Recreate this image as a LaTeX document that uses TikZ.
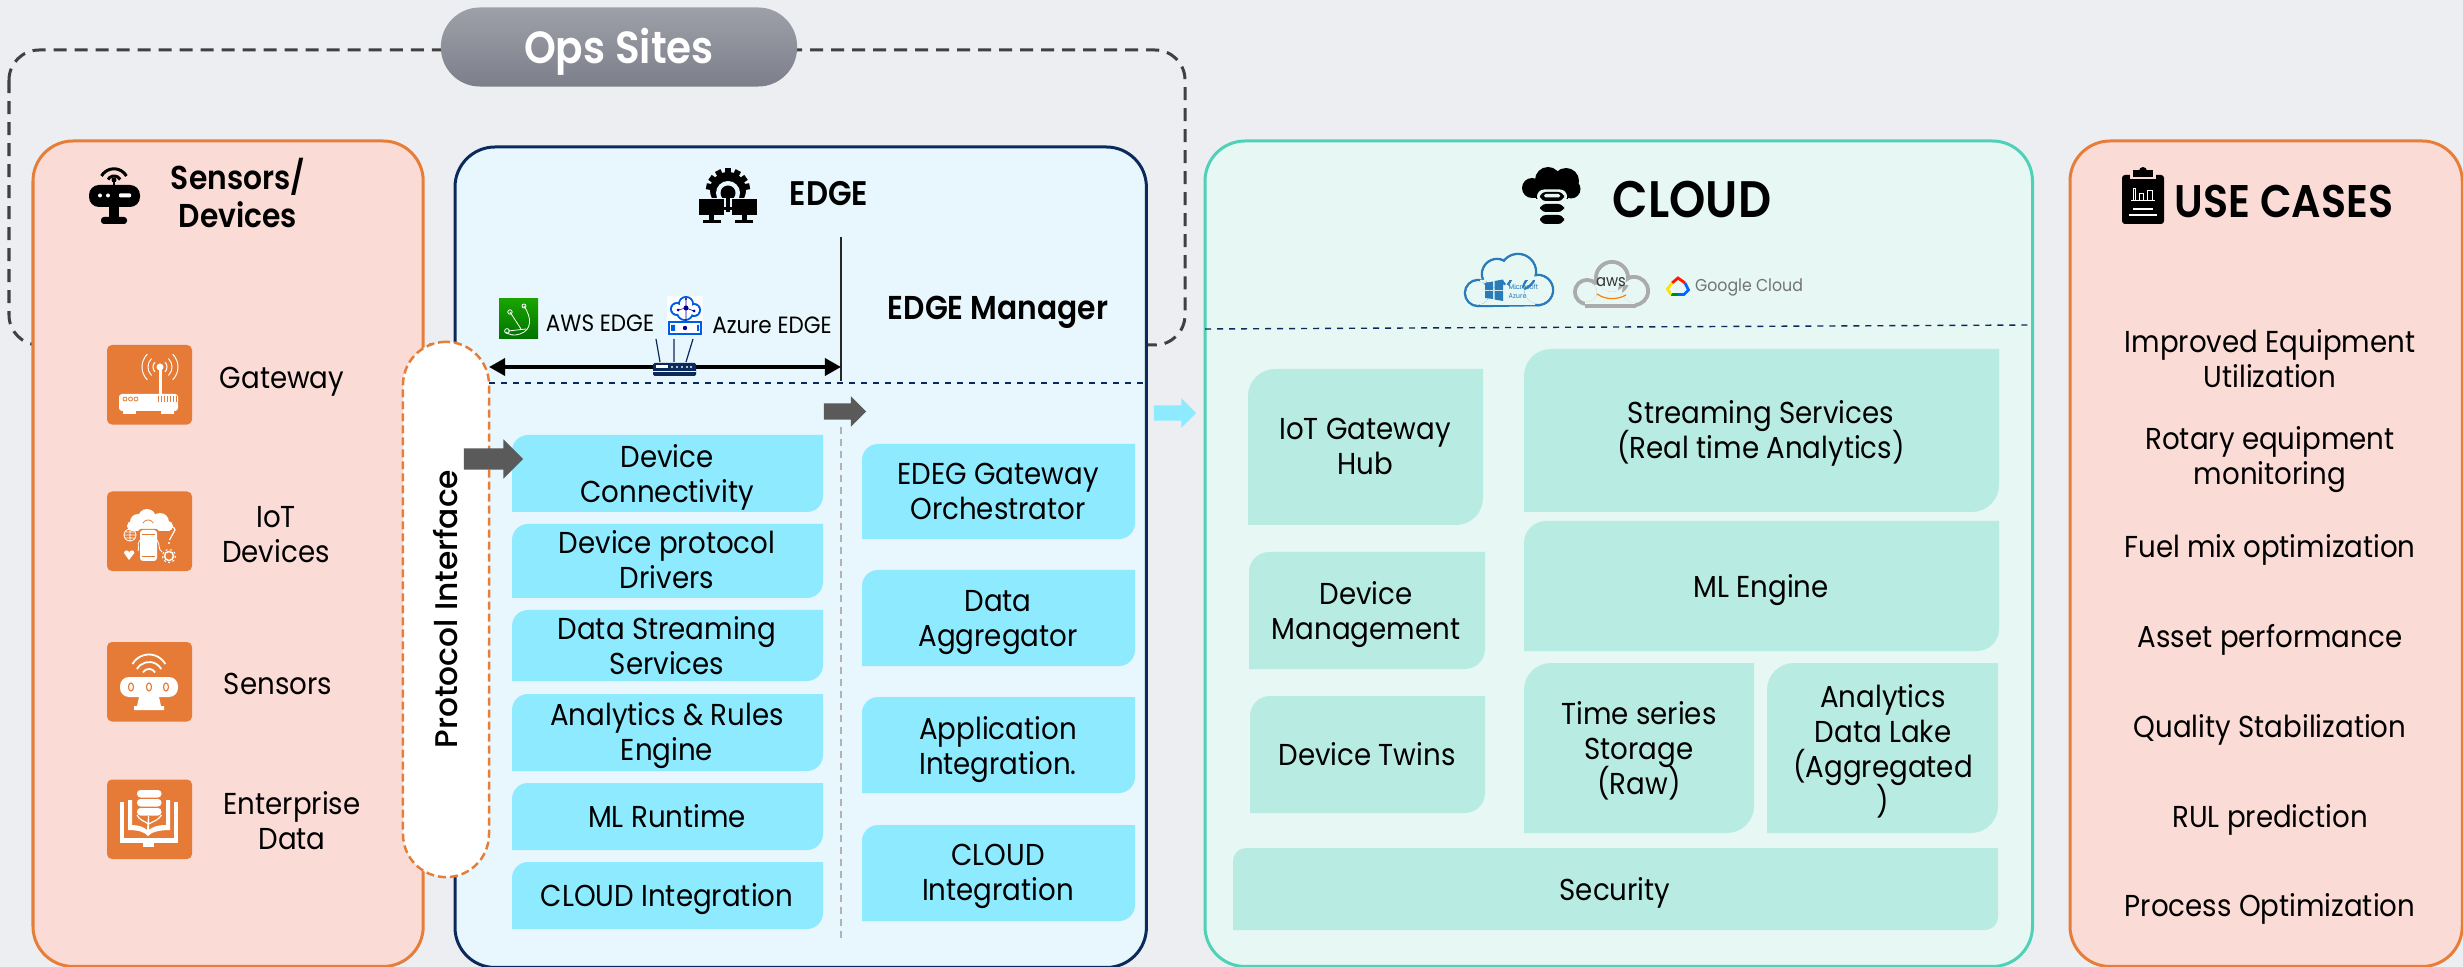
\documentclass[tikz,border=0pt]{standalone}
\usepackage{fontspec}
\setmainfont{Poppins}[FakeStretch=0.915]
\newfontfamily\medfont{Poppins SemiBold}[FakeStretch=0.9]
\newfontfamily\protofont{Poppins Medium}
\usetikzlibrary{shapes.arrows,arrows.meta}
\definecolor{bgc}{HTML}{ECEEF2}
\definecolor{oranged}{HTML}{E67E3A}
\definecolor{pinkf}{HTML}{FADBD6}
\definecolor{navy}{HTML}{0B2A5C}
\definecolor{edgef}{HTML}{E8F7FD}
\definecolor{cloudf}{HTML}{E7F7F3}
\definecolor{cloudl}{HTML}{4FD1B8}
\definecolor{bluebox}{HTML}{8EEBFF}
\definecolor{tealbox}{HTML}{B8EBE2}
\definecolor{grayarr}{HTML}{5A5A5A}
\definecolor{iconorange}{HTML}{E57B37}
\definecolor{pilltop}{HTML}{9EA0A9}
\definecolor{pillbot}{HTML}{7C7E8A}
\newcommand{\vstrut}{\rule[-4pt]{0pt}{14pt}}
\newcommand{\opsstrut}{\rule[-5pt]{0pt}{18.8pt}}
\newcommand{\cloudstrut}{\rule[-6pt]{0pt}{22.2pt}}
\tikzset{
  centred/.style={execute at begin node={\lineskiplimit=-20pt\vstrut},execute at end node={\vstrut}},
  lbl/.style={font=\fontsize{8.6}{9.96}\selectfont,align=center,inner sep=0pt,text=black,centred,yshift=-0.012cm},
  ttl/.style={font=\medfont\fontsize{9.4}{10.8}\selectfont,align=center,inner sep=0pt,text=black,centred},
  panel/.style={draw,line width=0.03cm,rounded corners=0.4cm,anchor=north west,inner sep=0pt,outer sep=0pt},
  blockarrow/.style={single arrow,single arrow tip angle=90,inner sep=0pt,outer sep=0pt,anchor=tip,draw=none,minimum width=0pt,text depth=0pt},
}
\newcommand{\petal}[9]{%
  \fill[#2] (#3,#6) [rounded corners=#7] -- (#3,#4) [sharp corners] -- (#5,#4) [rounded corners=#7] -- (#5,#6) [sharp corners] -- cycle;
  \node[lbl] (#1) at #8 {#9};}
\newcommand{\iconsq}[3]{%
  \node[fill=iconorange,rounded corners=0.05cm,inner sep=0pt,outer sep=0pt,minimum width=0.85cm,minimum height=0.795cm,anchor=north west] (#1) at (#2,#3) {};}
\begin{document}
\begin{tikzpicture}[x=0.01cm,y=-0.01cm]
\useasboundingbox (0,0) rectangle (2463,967);
\fill[bgc] (0,0) rectangle (2463,967);

% Ops site frame
\draw[draw=black!75,line width=0.03cm,dash pattern=on 0.13cm off 0.08cm,rounded corners=0.3cm] (9,50) rectangle (1185,345);

% Panels
\node[panel,draw=oranged,fill=pinkf,minimum width=3.9cm,minimum height=8.25cm] (sensors) at (33,141) {};
\node[panel,draw=navy,fill=edgef,minimum width=6.91cm,minimum height=8.2cm] (edge) at (455,147) {};
\node[panel,draw=cloudl,fill=cloudf,minimum width=8.27cm,minimum height=8.25cm] (cloud) at (1205,141) {};
\node[panel,draw=oranged,fill=pinkf,minimum width=3.92cm,minimum height=8.25cm] (uses) at (2070,141) {};

% Ops pill
\node[rounded corners=0.39cm,top color=pilltop,bottom color=pillbot,minimum width=3.56cm,minimum height=0.79cm,inner sep=0pt,outer sep=0pt,text=white,font=\medfont\fontsize{12.8}{14}\selectfont,execute at begin node={\opsstrut}] (ops) at (619,47) {\raisebox{-0.4pt}{Ops Sites}};

% Edge dividers
\coordinate (vtop) at (841,237); \coordinate (vbot) at (841,381);
\draw[black!85,line width=0.012cm] (vtop) -- (vbot);
\coordinate (v2top) at (841,427); \coordinate (v2bot) at (841,943);
\draw[black!30,line width=0.012cm,dash pattern=on 0.07cm off 0.05cm] (v2top) -- (v2bot);
\coordinate (dl) at (489,383); \coordinate (dr) at (1146,383);
\draw[navy,line width=0.014cm,dash pattern=on 0.06cm off 0.06cm] (dl) -- (dr);
\coordinate (cl) at (1205,329); \coordinate (cr) at (2032,325);
\draw[navy,line width=0.014cm,dash pattern=on 0.06cm off 0.06cm] (cl) -- (cr);

% Protocol pill
\node[draw=oranged,fill=white,line width=0.025cm,dash pattern=on 0.08cm off 0.04cm,rounded corners=0.43cm,minimum width=0.86cm,minimum height=5.35cm,inner sep=0pt,outer sep=0pt] (proto) at (446,609.5) {};
\node[rotate=90,inner sep=0pt,font=\protofont\fontsize{8.9}{11}\selectfont,execute at begin node={\vstrut}] (prototxt) at (447,609) {Protocol Interface};

% Double arrow
\coordinate (al) at (489,367); \coordinate (ar) at (841,367);
\draw[black,line width=0.035cm,{Triangle[length=0.16cm,width=0.17cm]}-{Triangle[length=0.16cm,width=0.17cm]}] (al) -- (ar);

% Section headings
\node[ttl] (sdh) at (238,200) {Sensors/\\Devices};
\node[ttl,font=\medfont\fontsize{9.7}{11}\selectfont] (edgeh) at (829,195) {EDGE};
\node[ttl,font=\medfont\fontsize{9.4}{11}\selectfont] (emh) at (998,309) {EDGE Manager};
\node[ttl,font=\medfont\fontsize{14.6}{16}\selectfont,execute at begin node={\cloudstrut}] (cloudh) at (1692,200) {CLOUD};
\node[ttl,font=\medfont\fontsize{13}{14}\selectfont,execute at begin node={\opsstrut}] (useh) at (2284,202) {USE CASES};

% Device items
\iconsq{i1}{107}{345}
\iconsq{i2}{107}{491.5}
\iconsq{i3}{107}{642}
\iconsq{i4}{107}{779.5}
\node[lbl] (t1) at (282,377) {Gateway};
\node[lbl] (t2) at (276,540) {IoT\\Devices};
\node[lbl] (t3) at (278,683) {Sensors};
\node[lbl] (t4) at (292,826) {Enterprise\\Data};

% Edge left stack
\petal{e1}{bluebox}{512}{435}{823}{512}{0.16cm}{(667,479)}{Device\\Connectivity}
\petal{e2}{bluebox}{512}{524}{823}{598}{0.16cm}{(667,565)}{Device protocol\\Drivers}
\petal{e3}{bluebox}{512}{610}{823}{681}{0.16cm}{(667,651)}{Data Streaming\\Services}
\petal{e4}{bluebox}{512}{694}{823}{771}{0.16cm}{(667,737)}{Analytics \& Rules\\Engine}
\petal{e5}{bluebox}{512}{783}{823}{850}{0.16cm}{(667,816)}{ML Runtime}
\petal{e6}{bluebox}{512}{862}{823}{929}{0.16cm}{(667,895)}{CLOUD Integration}
% Edge right stack
\petal{m1}{bluebox}{862}{444}{1135}{539}{0.16cm}{(998,497)}{EDEG Gateway\\Orchestrator}
\petal{m2}{bluebox}{862}{570}{1135}{666}{0.16cm}{(998,624)}{Data\\Aggregator}
\petal{m3}{bluebox}{862}{697}{1135}{793}{0.16cm}{(998,751)}{Application\\Integration.}
\petal{m4}{bluebox}{862}{825}{1135}{921}{0.16cm}{(998,878)}{CLOUD\\Integration}
% Cloud
\petal{c1}{tealbox}{1248}{369}{1483}{525}{0.27cm}{(1365,452)}{IoT Gateway\\Hub}
\petal{c2}{tealbox}{1524}{349}{1999}{512}{0.27cm}{(1761,435)}{Streaming Services\\(Real time Analytics)}
\petal{c3}{tealbox}{1524}{521}{1999}{651}{0.22cm}{(1761,586)}{ML Engine}
\petal{c4}{tealbox}{1249}{552}{1485}{669}{0.2cm}{(1366,616)}{Device\\Management}
\petal{c5}{tealbox}{1250}{696}{1485}{813}{0.2cm}{(1367,754)}{Device Twins}
\petal{c6}{tealbox}{1524}{663}{1754}{833}{0.27cm}{(1639,754)}{Time series\\Storage\\(Raw)}
\petal{c7}{tealbox}{1767}{663}{1998}{833}{0.27cm}{(1883,754)}{Analytics\\Data Lake\\(Aggregated\\)}
\petal{c8}{tealbox}{1233}{848}{1998}{930}{0.13cm}{(1615,889)}{Security}

% Block arrows
\node[blockarrow,fill=grayarr,minimum height=0.59cm,text height=0.2cm,single arrow head extend=0.09cm] (ga) at (523,459) {};
\node[blockarrow,fill=grayarr,minimum height=0.42cm,text height=0.15cm,single arrow head extend=0.07cm] (gb) at (866,411.5) {};
\node[blockarrow,fill=bluebox,minimum height=0.42cm,text height=0.14cm,single arrow head extend=0.07cm] (lb) at (1196,413) {};

% Use cases
\node[lbl] (u1) at (2270,364) {Improved Equipment\\Utilization};
\node[lbl] (u2) at (2270,461) {Rotary equipment\\monitoring};
\node[lbl] (u3) at (2270,546) {Fuel mix optimization};
\node[lbl] (u4) at (2270,636) {Asset performance};
\node[lbl] (u5) at (2270,726) {Quality Stabilization};
\node[lbl] (u6) at (2270,816) {RUL prediction};
\node[lbl] (u7) at (2270,905) {Process Optimization};

% AWS / Azure edge labels
\node[lbl,font=\fontsize{6.7}{8}\selectfont] (awse) at (600,320) {AWS EDGE};
\node[lbl,font=\fontsize{6.7}{8}\selectfont] (azue) at (772,322) {Azure EDGE};

% ---- ICONS ----
% robot heading icon
\begin{scope}
\draw[black,line width=0.03cm] (101.5,176) arc[start angle=-150,end angle=-30,radius=14.4];
\draw[black,line width=0.03cm] (108,179.5) arc[start angle=-150,end angle=-30,radius=7];
\fill[black] (114,180) circle (2.5);
\draw[black,line width=0.025cm] (114,180) -- (114,186);
\fill[black,rounded corners=0.1cm] (89,185) rectangle (140,207);
\fill[black] (109,207) rectangle (119,218);
\fill[black,rounded corners=0.03cm] (101,217) rectangle (127,224);
\fill[white] (100,195.5) circle (2); \fill[white] (108,195.5) circle (2);
\fill[white,rounded corners=0.01cm] (119,193.5) rectangle (131,197.5);
\end{scope}
% gear+monitors heading icon
\begin{scope}
\clip (690,160) rectangle (770,230);
\begin{scope}
\clip (690,160) rectangle (770,198);
\fill[black] (728,190) circle (18);
\foreach \a in {-170,-145,-118,-90,-62,-35,-10}
  \draw[black,line width=0.06cm] (728,190) -- ++(\a:22);
\fill[edgef] (728,193) circle (12);
\fill[black] (728,193) circle (7.5);
\fill[edgef] (726,193) rectangle (730,199);
\end{scope}
\fill[black] (726,190) rectangle (730,212);
\fill[black] (699,199) rectangle (724,215);
\fill[black] (732,199) rectangle (757,215);
\fill[black] (709,215) rectangle (714,220); \fill[black] (742,215) rectangle (747,220);
\fill[black] (703,220) rectangle (721,223); \fill[black] (735,220) rectangle (753,223);
\fill[black] (724,207) rectangle (732,210);
\end{scope}
% cloud db heading icon
\begin{scope}
\fill[black] (1532,188) circle (10);
\fill[black] (1548,180) circle (13);
\fill[black] (1566,181) circle (13);
\fill[black] (1571,189) circle (9.5);
\fill[black] (1532,180) rectangle (1570,198);
\fill[black] (1536,198) rectangle (1568,199);
\foreach \yy/\hh in {192/9,204/8,215/9}{
  \fill[cloudf,rounded corners=0.07cm] (1537,\yy-2.5) rectangle (1567,\yy+\hh+2.5);
  \fill[black,rounded corners=0.06cm] (1540,\yy) rectangle (1564,\yy+\hh);}
\fill[cloudf,rounded corners=0.015cm] (1544,194) rectangle (1560,197.5);
\end{scope}
% clipboard heading icon
\begin{scope}
\fill[black,rounded corners=0.03cm] (2122,175) rectangle (2164,224);
\fill[pinkf] (2130,172) rectangle (2156,179);
\fill[black] (2133,170) rectangle (2153,177);
\fill[black] (2143,171) circle (4);
\draw[white,line width=0.008cm] (2131,200) -- (2155,200);
\draw[white,line width=0.008cm] (2133,200) -- (2133,188) -- (2135,188) -- (2135,200) (2139,200) -- (2139,193) -- (2143,193) -- (2143,200) (2147,200) -- (2147,190) -- (2152,190) -- (2152,200);
\draw[white,line width=0.012cm] (2133,209) -- (2153,209) (2129,215) -- (2157,215);
\end{scope}
% orange icon 1 router
\begin{scope}
\fill[white,rounded corners=0.03cm] (119,394) rectangle (178,411);
\fill[white] (123,411) rectangle (136,414); \fill[white] (161,411) rectangle (174,414);
\fill[white] (159,368) rectangle (161.5,394);
\fill[white] (160,367) circle (3.5);
\foreach \r in {7,12,18}{
 \draw[white,line width=0.01cm] (160,367) ++(-45:\r) arc[start angle=-45,end angle=45,radius=\r];
 \draw[white,line width=0.01cm] (160,367) ++(-135:\r) arc[start angle=-135,end angle=-225,radius=\r];}
\foreach \xx in {125,130.5,136}{\draw[iconorange,line width=0.008cm] (\xx,399) circle (2);}
\foreach \xx in {158,161,164,167,170,173,176}{\draw[iconorange,line width=0.008cm] (\xx,396) -- (\xx,402);}
\end{scope}
% orange icon 2 cloud phone
\begin{scope}
\fill[white] (138,522) circle (8); \fill[white] (147,518) circle (9); \fill[white] (160,522) circle (9); \fill[white] (132,526) circle (5); \fill[white] (168,526) circle (5);
\fill[white] (132,524) rectangle (170,531);
\fill[iconorange,rounded corners=0.03cm] (138,529) rectangle (159,563);
\fill[white,rounded corners=0.03cm] (140,530) rectangle (157,561);
\draw[iconorange,line width=0.008cm] (142,534) -- (155,534) (142,556) -- (155,556);
\draw[iconorange,line width=0.008cm] (143,523) arc[start angle=-150,end angle=-30,radius=6];
\draw[white,line width=0.008cm] (130,535) circle (6) (124,535) -- (136,535) (130,529) -- (130,541) (125,532) -- (135,532) (125,538) -- (135,538);
\fill[white] (129,560) -- (124,553) arc[start angle=-180,end angle=0,radius=2.6] arc[start angle=-180,end angle=0,radius=2.6] -- cycle;
\draw[white,line width=0.015cm] (169,556) circle (4.5);
\draw[white,line width=0.01cm,dash pattern=on 0.02cm off 0.025cm] (169,556) circle (6.5);
\draw[white,line width=0.012cm] (169,530) arc[start angle=-180,end angle=0,radius=3] -- (169.5,540);
\fill[white] (169,543) circle (1.2);
\draw[white,line width=0.008cm] (140,540) .. controls (136,545) and (140,548) .. (138,551);
\draw[white,line width=0.008cm] (157,540) .. controls (161,545) and (157,548) .. (162,552);
\end{scope}
% orange icon 3 sensor
\begin{scope}
\draw[white,line width=0.018cm] (132.5,664) arc[start angle=-150,end angle=-30,radius=19];
\draw[white,line width=0.018cm] (137,669) arc[start angle=-150,end angle=-30,radius=14];
\draw[white,line width=0.018cm] (143,672.5) arc[start angle=-150,end angle=-30,radius=7];
\fill[white,rounded corners=0.09cm] (120,677) rectangle (178,697);
\foreach \xx in {131,149,166}{\draw[iconorange,line width=0.012cm] (\xx,687) ellipse (2.5 and 4);}
\fill[white] (139,697) -- (159,697) -- (161,706) -- (164,706) -- (164,710) -- (134,710) -- (134,706) -- (137,706) -- cycle;
\end{scope}
% orange icon 4 book db
\begin{scope}
\fill[white] (120,802) rectangle (124,838);
\fill[white] (174,802) rectangle (178,838);
\fill[white] (120,838) rectangle (178,843);
\fill[white] (128,800) -- (128,830) .. controls (138,830) and (145,832) .. (148,836) .. controls (151,832) and (160,830) .. (170,830) -- (170,800) -- (166,800) -- (166,825) .. controls (158,825) and (152,827) .. (149,830) -- (149,816) -- (148,816) -- (147,830) .. controls (144,827) and (138,825) .. (132,825) -- (132,800) -- cycle;
\fill[white] (143,843) rectangle (154,847);
\foreach \yy in {790,799,808}{\fill[white,rounded corners=0.035cm] (137,\yy) rectangle (161.5,\yy+7.5);}
\draw[white,line width=0.012cm] (137,815) .. controls (139,820) and (146,822) .. (148.5,824);
\draw[white,line width=0.012cm] (161.5,815) .. controls (159,820) and (152,822) .. (148.5,824);
\end{scope}
% AWS green square
\begin{scope}
\shade[bottom color=green!45!black,top color=green!60!black!90!yellow] (499,299) rectangle (538,339);
\draw[white,line width=0.008cm] (510,312) -- (521,329) (508,331) -- (526,329) (524,306) .. controls (532,318) and (532,330) .. (520,334) .. controls (514,336) and (509,335) .. (506,332);
\draw[white,line width=0.008cm] (510,312) circle (2.2) (524,306) circle (2) (507,331) circle (2.4);
\end{scope}
% Azure edge icon
\begin{scope}
\fill[white,opacity=.8] (667,296) rectangle (703,335);
\draw[blue!60!cyan!90!black,line width=0.02cm] (677,309) circle (6) (686,304) circle (7) (694,310) circle (6) (685,312) circle (8);
\fill[white] (677,309) circle (5) (686,304) circle (6) (694,310) circle (5) (685,312) circle (7);
\fill[blue!60!black] (686,308) circle (2.5) (678,310) circle (1.5) (694,311) circle (1.5) (686,299) circle (1.2);
\draw[blue!60!black,line width=0.006cm] (678,310) -- (686,308) -- (694,311) (686,299) -- (686,322);
\draw[blue!60!cyan!90!black,line width=0.02cm,fill=white] (669,322) rectangle (701,334);
\fill[blue!60!black] (685,328) circle (2.2);
\fill[blue!60!cyan!90!black] (671,325) rectangle (675,331) (697,325) rectangle (699,331);
\end{scope}
% Router on arrow
\begin{scope}
\draw[navy,line width=0.012cm] (660,362) -- (656,339) (674,362) -- (674,339) (686,362) -- (693,339);
\fill[navy,rounded corners=0.015cm] (653,363) rectangle (696,376);
\fill[edgef] (653,371) rectangle (696,372);
\fill[white] (656,365.5) rectangle (668,368.5);
\foreach \xx in {672,677,682,687,691}{\fill[edgef] (\xx,367) circle (1.1);}
\end{scope}
% Azure logo
\begin{scope}
\draw[cyan!65!blue!85!black,line width=0.025cm] (1478,293) circle (13) (1497,274) circle (15) (1518,272) circle (18) (1538,290) circle (15);
\draw[cyan!65!blue!85!black,line width=0.025cm] (1478,306) -- (1540,305);
\fill[cloudf] (1478,293) circle (11.8) (1497,274) circle (13.8) (1518,272) circle (16.8) (1538,290) circle (13.8) (1480,280) rectangle (1535,304.8);
\fill[cyan!65!blue!85!black] (1485,283) -- (1493,281.5) -- (1493,290) -- (1485,290) -- cycle (1494.5,281) -- (1503,279.5) -- (1503,290) -- (1494.5,290) -- cycle (1485,291) -- (1493,291) -- (1493,299) -- (1485,298) -- cycle (1494.5,291) -- (1503,291) -- (1503,301) -- (1494.5,299.5) -- cycle;
\node[inner sep=0pt,text=cyan!65!blue!85!black,align=left,anchor=west,font=\fontsize{2}{2.6}\selectfont] (azlogo) at (1508,291) {Microsoft\\Azure};
\end{scope}
% AWS logo
\begin{scope}
\draw[black!33,line width=0.04cm] (1587,292) circle (12) (1612,278) circle (16) (1634,291) circle (14);
\draw[black!33,line width=0.04cm] (1585,306) -- (1636,306);
\fill[cloudf] (1587,292) circle (10) (1612,278) circle (14) (1634,291) circle (12) (1585,285) rectangle (1635,304);
\node[inner sep=0pt,text=black!80,font=\fontsize{4.6}{6}\selectfont] (awslogo) at (1611,282) {aws};
\draw[orange,line width=0.012cm] (1597,294) .. controls (1606,300) and (1617,300) .. (1626,295);
\end{scope}
% Google Cloud logo
\begin{scope}
\draw[red!80!orange,line width=0.028cm] (1672,283) -- (1678,278) -- (1685,283);
\draw[blue!60!cyan,line width=0.028cm] (1685,283) -- (1688.5,290) -- (1684,294.5) -- (1678,294.5);
\draw[green!55!black,line width=0.028cm] (1678,294.5) -- (1671,294.5);
\draw[yellow!85!orange,line width=0.028cm] (1671,294.5) -- (1667.5,289) -- (1672,283);
\node[inner sep=0pt,text=black!55,font=\fontsize{4.9}{6}\selectfont] (gclogo) at (1749,287) {Google Cloud};
\end{scope}
\end{tikzpicture}
\end{document}
